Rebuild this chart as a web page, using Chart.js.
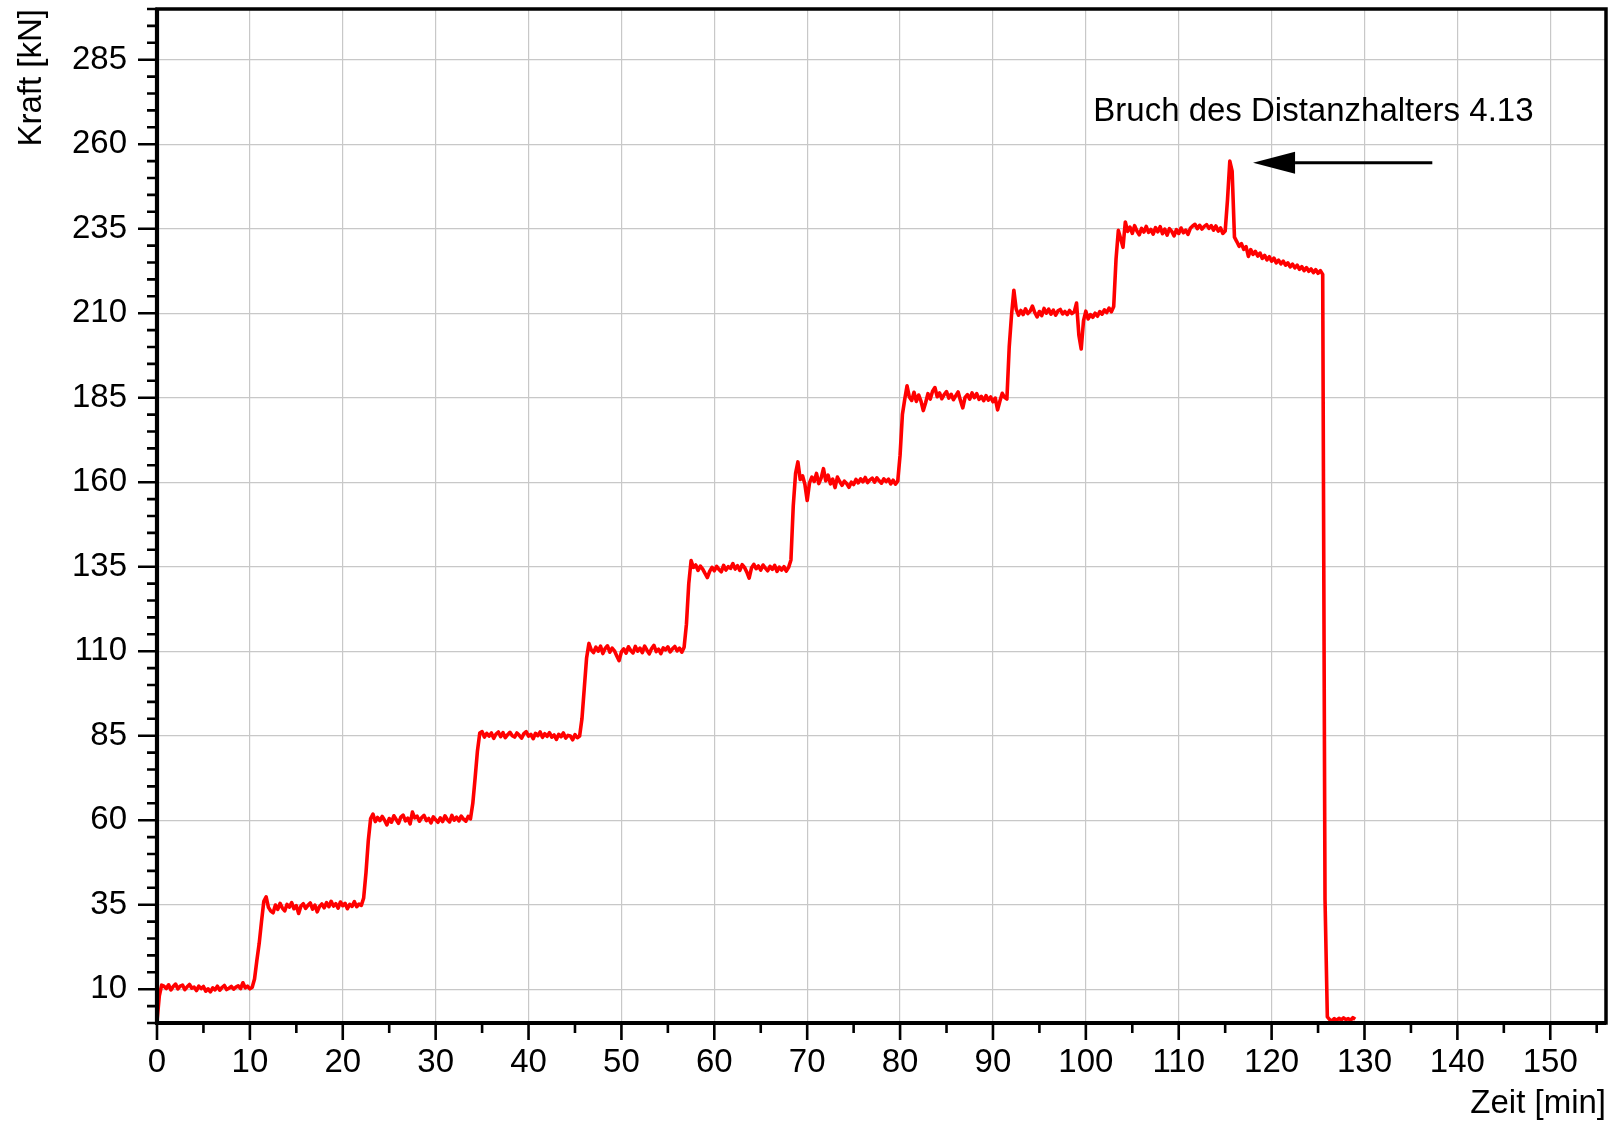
<!DOCTYPE html>
<html>
<head>
<meta charset="utf-8">
<title>Kraft-Zeit-Verlauf</title>
<script src="https://cdn.jsdelivr.net/npm/chart.js@4.4.1/dist/chart.umd.min.js"></script>
<style>
  html, body { margin: 0; padding: 0; background: #fff; }
</style>
</head>
<body>
<canvas id="kraftChart" width="1611" height="1124"></canvas>
<script>
const zeitSchritt = 0.25;
const kraftKN = [
  0.5, 8.0, 11.2, 10.9,
  10.2, 11.3, 9.8, 10.8,
  11.5, 10.1, 10.9, 11.2,
  9.9, 10.7, 11.4, 10.3,
  10.6, 9.6, 10.9, 10.2,
  10.8, 9.4, 10.1, 9.2,
  10.4, 9.8, 10.9, 9.7,
  10.5, 11.1, 9.9, 10.3,
  10.8, 10.0, 10.6, 11.0,
  10.2, 11.9, 10.4, 10.9,
  10.1, 10.6, 13.0, 18.5,
  23.5, 30.0, 36.0, 37.3,
  34.2, 33.1, 32.6, 34.9,
  33.6, 35.4, 34.0, 33.2,
  35.1, 34.3, 35.6, 33.8,
  34.7, 32.4, 34.6, 35.3,
  33.9, 34.8, 35.5, 33.7,
  34.9, 32.9, 34.5, 35.2,
  34.1, 35.6, 34.4, 36.0,
  34.6, 35.3, 34.0, 35.8,
  34.7, 35.4, 33.8, 35.1,
  34.5, 35.9, 34.4, 35.2,
  34.8, 37.0, 44.5, 54.0,
  60.5, 61.8, 59.6, 60.8,
  59.9, 61.1, 60.0, 58.6,
  60.5, 59.4, 61.3, 60.2,
  59.1, 60.9, 61.5, 59.8,
  60.6, 58.9, 62.4, 60.7,
  61.2, 59.7, 60.8, 61.4,
  59.9, 60.5, 59.2, 61.0,
  60.1, 59.4, 60.7, 59.6,
  61.3, 60.2, 59.5, 61.4,
  60.0, 60.9, 59.8, 61.2,
  60.3, 59.7, 61.1, 60.4,
  65.0, 72.5, 80.5, 85.8,
  86.2, 84.6, 85.7, 84.9,
  85.8, 84.2, 85.5, 86.1,
  84.7, 85.9, 84.4, 85.3,
  86.0, 85.0, 84.6, 85.8,
  85.1, 84.3, 85.6, 86.2,
  84.9, 85.4, 84.1, 85.7,
  85.0, 86.1, 84.5, 85.6,
  84.8, 85.9, 84.6, 85.2,
  83.9, 85.4, 84.7, 85.8,
  84.3, 85.1, 84.9, 83.8,
  85.3, 84.4, 84.9, 90.0,
  99.0, 108.0, 112.3, 110.4,
  109.6, 111.2, 110.0, 111.5,
  109.3, 110.8, 111.6, 109.7,
  110.9, 110.1, 108.6, 107.2,
  109.8, 110.7, 109.4, 111.3,
  110.2, 109.5, 111.4, 110.0,
  110.9, 109.6, 111.5, 110.3,
  109.2, 110.8, 111.7, 109.9,
  110.6, 109.3, 111.0, 110.4,
  111.3, 109.8, 110.7, 111.4,
  110.1, 110.9, 109.7, 111.2,
  118.0, 130.0, 136.8, 134.8,
  135.5, 133.9, 135.2, 134.3,
  133.0, 131.8, 133.6, 134.8,
  133.8, 135.1, 134.2, 133.5,
  135.4, 134.0, 135.0, 134.5,
  135.9, 134.3, 135.3, 133.9,
  135.6, 134.8, 133.4, 131.6,
  134.6, 135.7, 134.4, 135.2,
  134.0, 135.5, 134.6, 133.8,
  135.1, 134.2, 135.4, 133.6,
  134.9, 134.0, 135.0, 133.7,
  134.8, 137.0, 153.0, 162.6,
  166.0, 160.8, 161.9, 159.4,
  154.6, 159.8, 161.5, 160.2,
  162.6, 159.6, 161.2, 164.0,
  160.4, 162.1, 159.5, 160.9,
  158.4, 161.5, 160.2, 159.1,
  160.3, 159.6, 158.5, 160.0,
  159.3, 160.8, 159.8, 161.0,
  160.1, 161.4, 159.9, 160.7,
  161.2, 160.0, 161.3, 160.4,
  159.7, 161.0, 160.2, 160.9,
  159.5, 160.6, 159.4, 160.3,
  168.0, 180.0, 184.5, 188.5,
  185.2, 184.2, 186.6, 183.9,
  185.8, 184.0, 181.2, 183.5,
  186.2, 184.6, 186.9, 188.0,
  185.3, 186.4, 184.7, 185.9,
  186.8, 184.9, 186.0, 184.4,
  185.6, 186.7, 184.2, 182.0,
  185.1, 185.9, 184.6, 186.4,
  185.0, 186.2, 184.5, 185.4,
  184.1, 185.6, 184.3, 185.2,
  183.8, 184.9, 181.4, 184.0,
  186.3, 185.1, 184.6, 200.0,
  209.5, 216.8, 211.2, 209.4,
  210.8, 209.6, 211.3, 209.9,
  210.6, 212.1, 210.2, 208.9,
  210.5, 209.3, 211.4, 210.0,
  211.2, 209.7, 210.9, 209.4,
  210.7, 211.1, 209.8, 210.5,
  209.6, 210.8, 209.9, 210.4,
  213.0, 203.5, 199.4, 207.8,
  210.6, 208.3, 209.6, 208.8,
  210.0, 209.1, 210.5, 209.7,
  211.0, 210.2, 211.5, 210.4,
  212.0, 226.0, 234.5, 232.0,
  229.5, 237.0, 234.2, 235.5,
  233.6, 235.9, 234.3, 233.2,
  235.1, 234.0, 235.7, 233.9,
  234.8, 233.4, 235.3, 234.1,
  235.6, 233.5, 234.9, 233.1,
  235.0, 234.2, 232.9, 234.7,
  233.6, 235.2, 233.8, 234.6,
  233.3, 235.1, 235.8, 236.3,
  235.0, 236.0, 234.9, 235.7,
  236.2, 235.1, 235.9, 234.6,
  235.8, 234.3, 235.2, 233.6,
  234.3, 243.5, 255.0, 252.0,
  232.5, 231.2, 229.8, 230.6,
  228.9, 229.7, 226.8, 228.8,
  227.4, 228.3, 226.9, 227.8,
  226.2, 227.1, 225.8, 226.7,
  225.4, 226.3, 224.9, 225.7,
  224.6, 225.4, 224.2, 224.9,
  223.7, 224.5, 223.4, 224.2,
  223.0, 223.8, 222.6, 223.5,
  222.4, 223.1, 222.0, 222.9,
  221.8, 222.6, 221.5, 36.5,
  1.8, 1.0, 0.6, 1.3,
  0.8, 1.4, 0.9, 1.5,
  1.0, 1.3, 0.8, 1.6,
  1.1
];
const zeitMin = kraftKN.map((_, i) => i * zeitSchritt);

const xTicks = [0, 10, 20, 30, 40, 50, 60, 70, 80, 90, 100, 110, 120, 130, 140, 150];
const yTicks = [10, 35, 60, 85, 110, 135, 160, 185, 210, 235, 260, 285];
const bruchText = 'Bruch des Distanzhalters 4.13';

const FONT = '"Liberation Sans", Arial, sans-serif';
const FONT_SIZE = 33;

// Rahmen, Haupt- und Nebenstriche
const rahmenPlugin = {
  id: 'rahmen',
  afterDatasetsDraw(chart) {
    const { ctx, chartArea: a, scales: { x, y } } = chart;
    ctx.save();
    ctx.strokeStyle = '#000';
    ctx.lineWidth = 2.6;
    ctx.beginPath();
    for (let v = 0; v <= 300; v += 5) {
      const py = y.getPixelForValue(v);
      const len = yTicks.includes(v) ? 19 : 10;
      ctx.moveTo(a.left - len, py);
      ctx.lineTo(a.left, py);
    }
    for (let v = 0; v <= 155; v += 5) {
      const px = x.getPixelForValue(v);
      const len = xTicks.includes(v) ? 17 : 10;
      ctx.moveTo(px, a.bottom);
      ctx.lineTo(px, a.bottom + len);
    }
    ctx.stroke();

    ctx.lineWidth = 3.5;
    ctx.strokeRect(a.left, a.top, a.right - a.left, a.bottom - a.top);
    ctx.lineWidth = 4.2;
    ctx.beginPath();
    ctx.moveTo(a.left, a.top);
    ctx.lineTo(a.left, a.bottom);
    ctx.lineTo(a.right, a.bottom);
    ctx.stroke();
    ctx.restore();
  }
};

// Beschriftung mit Pfeil
const pfeilPlugin = {
  id: 'pfeil',
  afterDatasetsDraw(chart) {
    const { ctx, scales: { x, y } } = chart;
    ctx.save();
    ctx.fillStyle = '#000';
    ctx.font = FONT_SIZE + 'px ' + FONT;
    ctx.textAlign = 'left';
    ctx.textBaseline = 'middle';
    ctx.fillText(bruchText, x.getPixelForValue(100.8), y.getPixelForValue(269.6));

    const py = y.getPixelForValue(254.5);
    const tip = x.getPixelForValue(118.0);
    const base = tip + 42;
    ctx.strokeStyle = '#000';
    ctx.lineWidth = 3;
    ctx.beginPath();
    ctx.moveTo(x.getPixelForValue(137.3), py);
    ctx.lineTo(base, py);
    ctx.stroke();
    ctx.beginPath();
    ctx.moveTo(tip, py);
    ctx.lineTo(base, py - 11);
    ctx.lineTo(base, py + 11);
    ctx.closePath();
    ctx.fill();
    ctx.restore();
  }
};

const ctx = document.getElementById('kraftChart').getContext('2d');
new Chart(ctx, {
  type: 'line',
  data: {
    datasets: [{
      label: 'Kraft',
      data: zeitMin.map((t, i) => ({ x: t, y: kraftKN[i] })),
      borderColor: '#ff0000',
      borderWidth: 3.6,
      borderJoinStyle: 'round',
      pointRadius: 0,
      tension: 0,
      fill: false
    }]
  },
  options: {
    responsive: false,
    animation: false,
    layout: { padding: { top: 9, right: 5, left: 0, bottom: 0 } },
    plugins: {
      legend: { display: false },
      tooltip: { enabled: false }
    },
    scales: {
      x: {
        type: 'linear',
        min: 0,
        max: 156,
        afterBuildTicks: axis => { axis.ticks = xTicks.map(v => ({ value: v })); },
        afterFit: axis => {
          axis.height = 101;
          axis.paddingLeft = 0;
          axis.paddingRight = 0;
        },
        border: { display: false },
        grid: { color: '#c8c8c8', lineWidth: 1.2, drawTicks: false },
        ticks: {
          padding: 20,
          color: '#000',
          font: { family: FONT, size: FONT_SIZE },
          maxRotation: 0,
          autoSkip: false
        },
        title: {
          display: true,
          text: 'Zeit [min]',
          align: 'end',
          color: '#000',
          font: { family: FONT, size: FONT_SIZE },
          padding: { top: 0, bottom: 0 }
        }
      },
      y: {
        type: 'linear',
        min: 0,
        max: 300,
        afterBuildTicks: axis => { axis.ticks = yTicks.map(v => ({ value: v })); },
        afterFit: axis => {
          axis.width = 157;
          axis.paddingTop = 0;
          axis.paddingBottom = 0;
        },
        border: { display: false },
        grid: { color: '#c8c8c8', lineWidth: 1.2, drawTicks: false },
        ticks: {
          padding: 30,
          color: '#000',
          font: { family: FONT, size: FONT_SIZE },
          autoSkip: false
        },
        title: {
          display: true,
          text: 'Kraft [kN]',
          align: 'end',
          color: '#000',
          font: { family: FONT, size: FONT_SIZE },
          padding: { top: 12, bottom: 0 }
        }
      }
    }
  },
  plugins: [rahmenPlugin, pfeilPlugin]
});
</script>
</body>
</html>
